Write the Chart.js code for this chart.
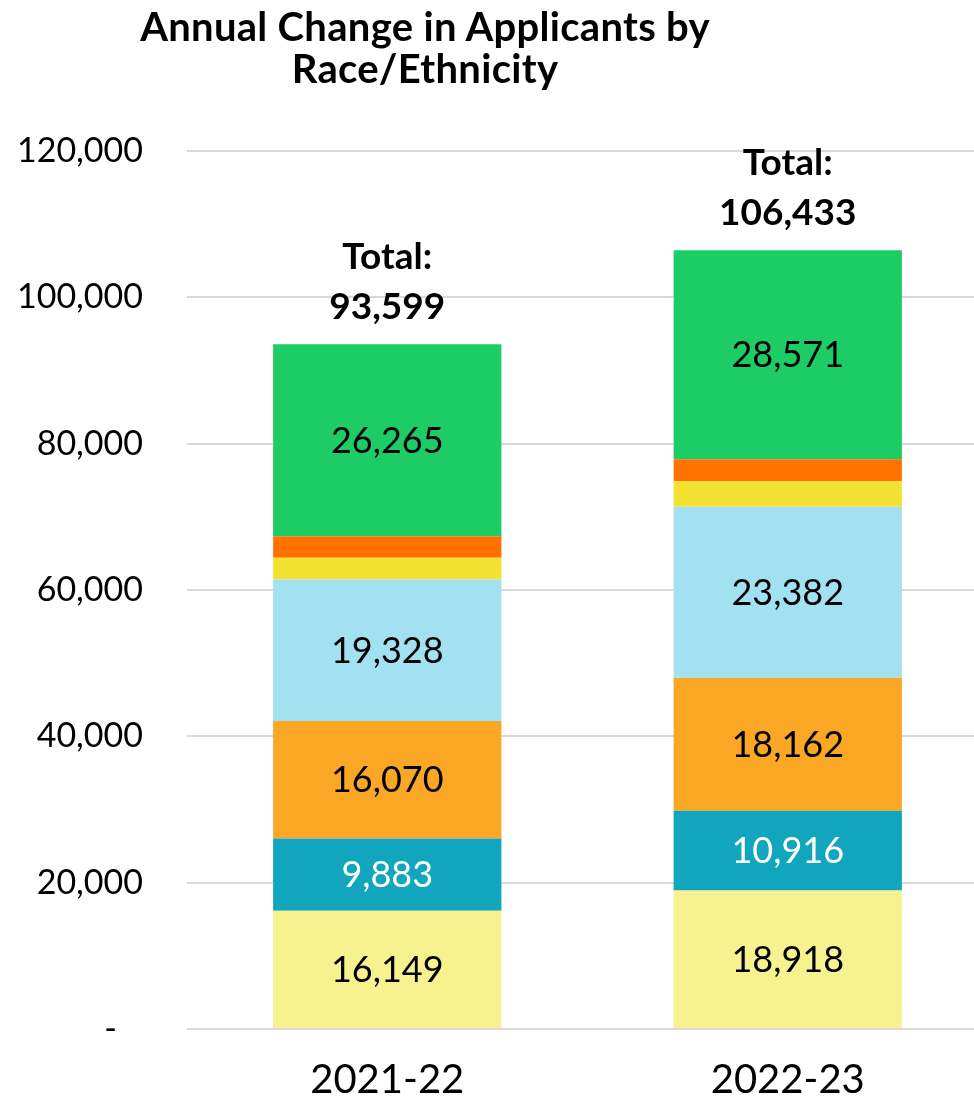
<!DOCTYPE html>
<html>
<head>
<meta charset="utf-8">
<script src="https://cdn.jsdelivr.net/npm/chart.js@4"></script>
<style>
  html, body { margin: 0; padding: 0; background: #fff; overflow: hidden; }
  #wrap { position: relative; width: 988px; height: 1096px; }
  #title {
    position: absolute; left: 425px; top: 5px; transform: translateX(-50%);
    text-align: center; font-family: Lato, "Open Sans", sans-serif;
    font-weight: bold; font-size: 40px; line-height: 42px; color: #000;
    white-space: nowrap; letter-spacing: 0.3px;
  }
</style>
</head>
<body>
<div id="wrap">
  <canvas id="chart" width="988" height="1096"></canvas>
  <div id="title">Annual Change in Applicants by<br>Race/Ethnicity</div>
</div>
<script>
(() => {
  // ---- Data (bottom segment first) ----
  const years = ['2021-22', '2022-23'];
  const groupNames = ['Group 1', 'Group 2', 'Group 3', 'Group 4', 'Group 5', 'Group 6', 'Group 7'];
  const group1 = [16149, 18918];
  const group2 = [9883, 10916];
  const group3 = [16070, 18162];
  const group4 = [19328, 23382];
  const group5 = [2990, 3500];
  const group6 = [2914, 2984];
  const group7 = [26265, 28571];
  const totals = [93599, 106433];
  const yTicks = [0, 20000, 40000, 60000, 80000, 100000, 120000];

  const colors = ['#F7F190', '#11A6BD', '#FBA726', '#A2E2F0', '#F3E231', '#FF7200', '#1DCC64'];
  const labelColors = ['#000', '#fff', '#000', '#000', '#000', '#000', '#000'];
  const series = [group1, group2, group3, group4, group5, group6, group7];

  const FONT = 'Lato, "Open Sans", sans-serif';
  const fmt = (v) => v.toLocaleString('en-US');

  // segment values + totals drawn on the bars
  const barLabels = {
    id: 'barLabels',
    afterDatasetsDraw(chart) {
      const ctx = chart.ctx;
      ctx.save();
      ctx.textAlign = 'center';
      ctx.textBaseline = 'middle';
      ctx.font = '36px ' + FONT;
      chart.data.datasets.forEach((ds, di) => {
        const meta = chart.getDatasetMeta(di);
        meta.data.forEach((bar, i) => {
          const v = ds.data[i];
          if (v < 5000) return;
          ctx.fillStyle = labelColors[di];
          ctx.fillText(fmt(v), bar.x, (bar.y + bar.base) / 2 + 1);
        });
      });
      const yScale = chart.scales.y;
      const meta0 = chart.getDatasetMeta(0);
      ctx.font = 'bold 37px ' + FONT;
      ctx.fillStyle = '#000';
      totals.forEach((t, i) => {
        const x = meta0.data[i].x;
        const top = yScale.getPixelForValue(t);
        ctx.fillText('Total:', x, top - 87);
        ctx.fillText(fmt(t), x, top - 37);
      });
      ctx.restore();
    }
  };

  new Chart(document.getElementById('chart').getContext('2d'), {
    type: 'bar',
    data: {
      labels: years,
      datasets: series.map((d, i) => ({
        label: groupNames[i],
        data: d,
        backgroundColor: colors[i],
        borderWidth: 0,
        barPercentage: 0.57,
        categoryPercentage: 1
      }))
    },
    options: {
      responsive: false,
      animation: false,
      layout: { padding: { top: 151, left: 0, right: 0, bottom: 0 } },
      plugins: {
        legend: { display: false },
        title: { display: false },
        tooltip: { enabled: false }
      },
      scales: {
        x: {
          stacked: true,
          grid: { display: false },
          border: { display: false },
          ticks: { color: '#000', font: { family: FONT, size: 40 }, padding: 19 },
          afterFit: (s) => { s.height = 67; }
        },
        y: {
          stacked: true,
          min: 0,
          max: 120000,
          afterBuildTicks: (s) => { s.ticks = yTicks.map(v => ({ value: v })); },
          grid: { color: '#D9D9D9', lineWidth: 2, drawTicks: false },
          border: { display: false },
          ticks: {
            color: '#000',
            padding: 44,
            font: { family: FONT, size: 34 },
            callback: (v) => v === 0 ? '-   ' : fmt(v)
          },
          afterFit: (s) => { s.width = 187; }
        }
      }
    },
    plugins: [barLabels]
  });
})();
</script>
</body>
</html>
